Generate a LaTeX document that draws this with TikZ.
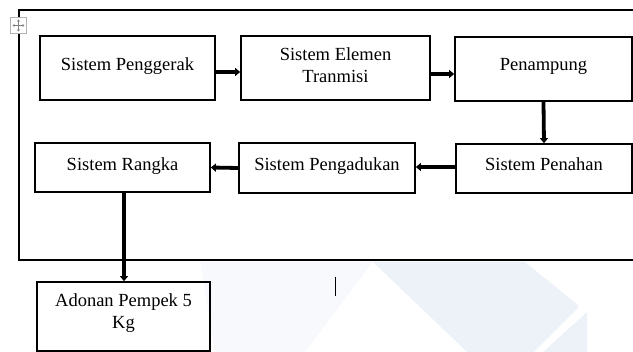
\documentclass[tikz,border=0pt]{standalone}
\usepackage{fontspec}
\setmainfont{Liberation Serif}
\usetikzlibrary{arrows.meta,calc}
\definecolor{wmark}{HTML}{EDF1F8}
\definecolor{wfaint}{HTML}{F8F9FC}
\tikzset{
  box/.style={draw=black, line width=1.7pt, rectangle, inner sep=0pt},
  lbl/.style={font=\fontsize{18.5}{22}\selectfont, align=center, inner sep=0pt},
  arr/.style={line width=3.8pt, -{Triangle[length=5pt,width=8pt]}, shorten <=-1pt},
  frame/.style={line width=1.8pt},
}
\begin{document}
\begin{tikzpicture}[x=1pt,y=-1pt]
\useasboundingbox (0,0) rectangle (633,352);
% watermark
\fill[wfaint] (200,262) -- (373,262) -- (305,352) -- (215,352) -- cycle;
\fill[wmark] (373,262) -- (525,262) -- (578,305) -- (578,308) -- (534,352) -- (467,352) -- cycle;
\fill[wmark] (587,312) -- (587,352) -- (543,352) -- cycle;
% outer frame
\begin{scope}
\clip (0,0) rectangle (633,352);
\draw[frame] (640,10) coordinate (fr1) -- (19,10) coordinate (fr2) -- (19,260) coordinate (fr3) -- (640,260) coordinate (fr4);
\end{scope}
% move icon
\node[draw=gray!60, fill=white, line width=0.8pt, minimum width=16pt, minimum height=16pt, inner sep=0pt] (mv) at (18.5,25.5) {};
\draw[gray, line width=0.6pt, {Stealth[length=2pt,width=3pt]}-{Stealth[length=2pt,width=3pt]}] ($(mv.center)+(-6,0)$) -- ($(mv.center)+(6,0)$);
\draw[gray, line width=0.6pt, {Stealth[length=2pt,width=3pt]}-{Stealth[length=2pt,width=3pt]}] ($(mv.center)+(0,-6)$) -- ($(mv.center)+(0,6)$);
% boxes
\node[box, minimum width=175pt, minimum height=64pt] (b1) at (127.5,68) {};
\node[box, minimum width=189pt, minimum height=64pt] (b2) at (335.5,68) {};
\node[box, minimum width=177pt, minimum height=64pt] (b3) at (543.5,69) {};
\node[box, minimum width=176pt, minimum height=49pt] (b4) at (544,168.5) {};
\node[box, minimum width=176pt, minimum height=50pt] (b5) at (327,168) {};
\node[box, minimum width=175pt, minimum height=49pt] (b6) at (122.5,167.5) {};
\node[box, minimum width=173pt, minimum height=69pt] (b7) at (123.5,316.5) {};
% labels
\node[lbl, anchor=base] (t1) at (127.5,71) {Sistem Penggerak};
\node[lbl] (t2) at (335.5,65) {Sistem Elemen\\Tranmisi};
\node[lbl, anchor=base] (t3) at (543.5,71) {Penampung};
\node[lbl, anchor=base] (t4) at (544,171) {Sistem Penahan};
\node[lbl, anchor=base] (t5) at (327,171) {Sistem Pengadukan};
\node[lbl, anchor=base] (t6) at (122.5,170.5) {Sistem Rangka};
\node[lbl] (t7) at (123.5,313.5) {Adonan Pempek 5\\Kg};
% arrows
\draw[arr] ($(b1.east)+(0,4)$) -- ($(b2.west)+(0,4)$);
\draw[arr] ($(b2.east)+(0,6)$) -- ($(b3.west)+(0,5)$);
\draw[arr] (b3.south) -- (b4.north);
\draw[arr] ($(b4.west)+(0,-1.5)$) -- ($(b5.east)+(0,-1)$);
\draw[arr] (b5.west) -- (b6.east);
\draw[arr] ($(b6.south)+(1.5,0)$) -- ($(b7.north)+(0.5,0)$);
% text cursor
\coordinate (c1) at (335,277);
\coordinate (c2) at (335,296);
\draw[line width=1pt] (c1) -- (c2);
\end{tikzpicture}
\end{document}
